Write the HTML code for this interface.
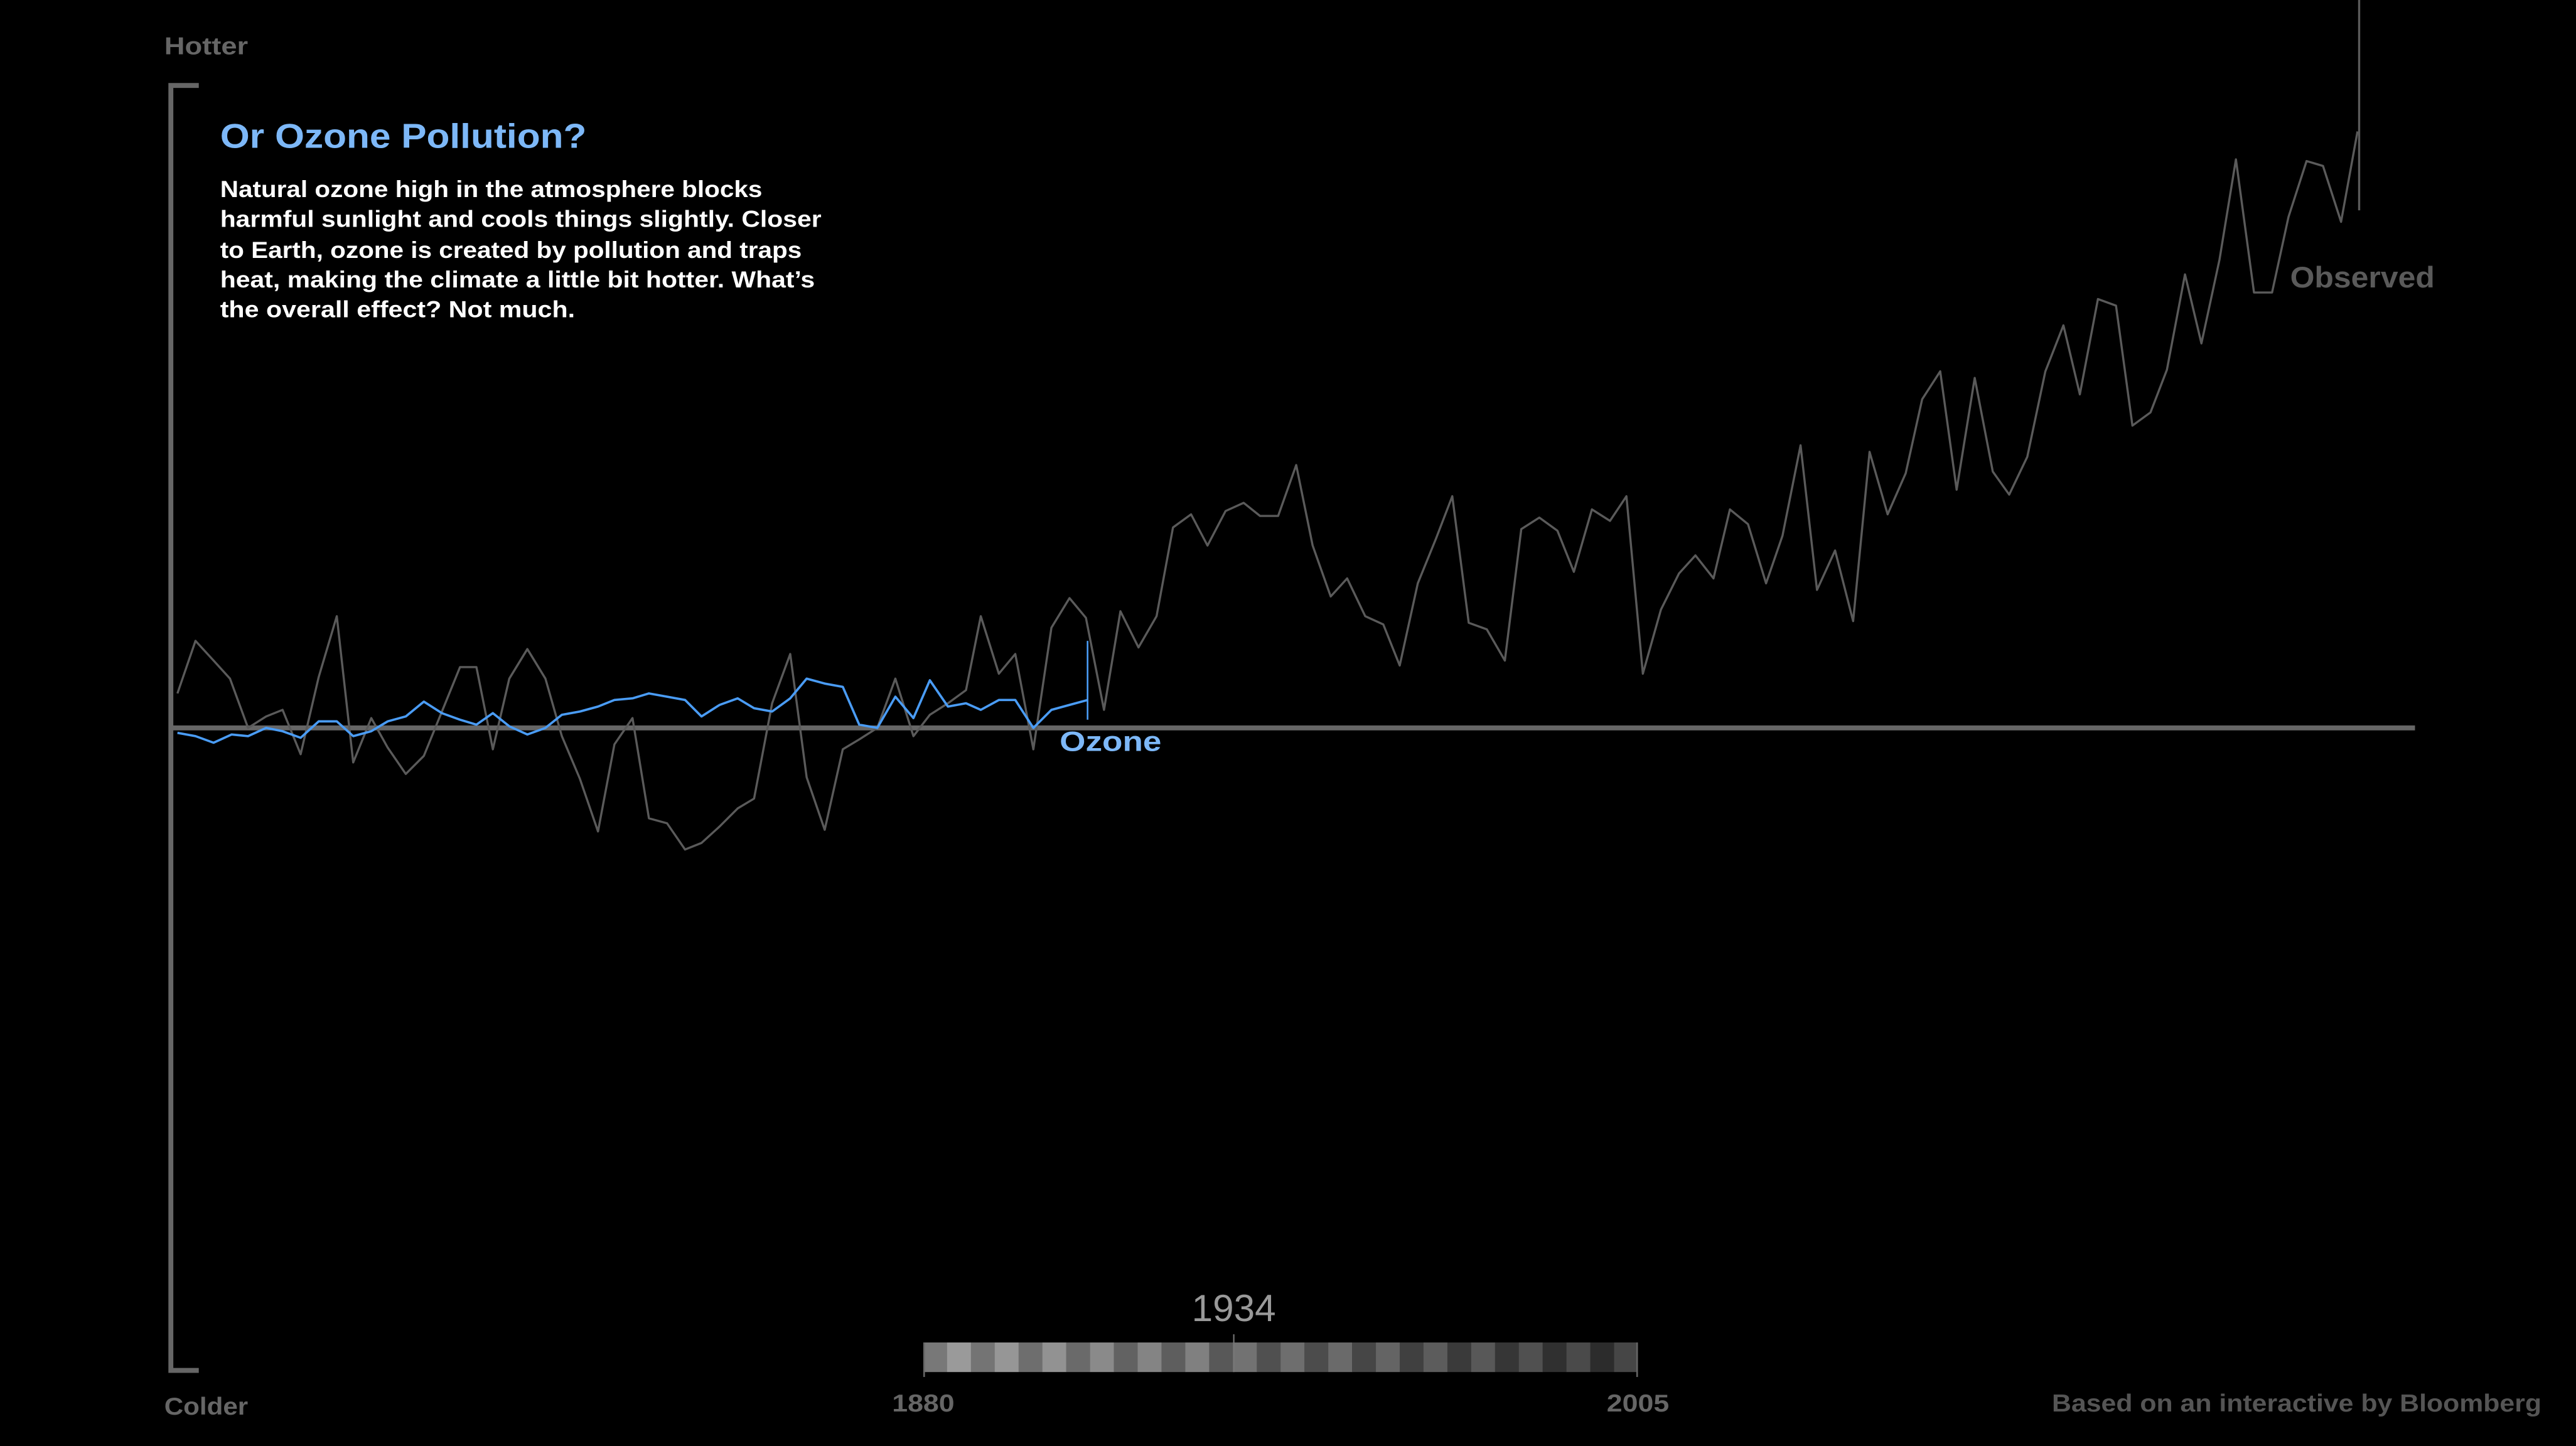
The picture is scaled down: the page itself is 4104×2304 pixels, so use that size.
<!DOCTYPE html>
<html><head><meta charset="utf-8"><style>html,body{margin:0;padding:0;background:#000;}svg{display:block}</style></head>
<body>
<svg width="4104" height="2304" viewBox="0 0 1568 880" preserveAspectRatio="none" xmlns="http://www.w3.org/2000/svg" font-family="Liberation Sans, sans-serif">
<rect width="1568" height="880" fill="#000"/>
<text x="100" y="33" font-size="15" font-weight="bold" fill="#666" textLength="51" lengthAdjust="spacingAndGlyphs">Hotter</text>
<text x="100" y="861" font-size="15" font-weight="bold" fill="#666" textLength="51" lengthAdjust="spacingAndGlyphs">Colder</text>
<path d="M121,52 H104 V834 H121" fill="none" stroke="#666" stroke-width="3"/>
<line x1="104" y1="443" x2="1470" y2="443" stroke="#666" stroke-width="3"/>
<text x="134" y="90" font-size="21" font-weight="bold" fill="#7db8f8" textLength="223" lengthAdjust="spacingAndGlyphs">Or Ozone Pollution?</text>
<g font-size="14.3" font-weight="bold" fill="#fff" xml:space="preserve">
<text x="134" y="120" textLength="330" lengthAdjust="spacingAndGlyphs">Natural ozone high in the atmosphere blocks</text>
<text x="134" y="138" textLength="366" lengthAdjust="spacingAndGlyphs">harmful sunlight and cools things slightly.  Closer</text>
<text x="134" y="157" textLength="354" lengthAdjust="spacingAndGlyphs">to Earth, ozone is created by pollution and traps</text>
<text x="134" y="175" textLength="362" lengthAdjust="spacingAndGlyphs">heat, making the climate a little bit hotter.  What’s</text>
<text x="134" y="193" textLength="216" lengthAdjust="spacingAndGlyphs">the overall effect?  Not much.</text>
</g>
<polyline fill="none" stroke="#5a5a5a" stroke-width="1.3" stroke-linejoin="round" points="108,422 119,390 130,402 140,413 151,443 162,436 172,432 183,459 194,412 205,375 215,464 226,437 236,455 247,471 258,460 269,433 280,406 290,406 300,456 310,413 321,395 332,413 342,448 353,474 364,506 374,453 385,437 395,498 406,501 417,517 427,513 438,503 449,492 459,486 470,428 481,398 491,473 502,505 513,456 523,450 534,443 545,413 556,448 566,435 577,428 588,420 597,375 608,410 618,398 629,456 640,382 651,364 661,376 672,432 682,372 693,394 704,375 714,321 725,313 735,332 746,311 757,306 767,314 778,314 789,283 799,332 810,363 820,352 831,375 842,380 852,405 863,355 874,328 884,302 894,379 905,383 916,402 926,322 937,315 948,323 958,348 969,310 980,317 990,302 1000,410 1011,371 1022,349 1032,338 1043,352 1053,310 1064,319 1075,355 1085,326 1096,271 1106,359 1117,335 1128,378 1138,275 1149,313 1160,288 1170,243 1181,226 1191,298 1202,230 1213,287 1223,301 1234,278 1245,226 1256,198 1266,240 1277,182 1288,186 1298,259 1309,251 1319,225 1330,167 1340,209 1351,158 1361,97 1372,178 1383,178 1393,132 1404,98 1414,101 1425,135 1435,80"/>
<line x1="1436" y1="0" x2="1436" y2="128" stroke="#5a5a5a" stroke-width="1.3"/>
<text x="1394" y="175" font-size="18" font-weight="bold" fill="#5a5a5a" textLength="88" lengthAdjust="spacingAndGlyphs">Observed</text>
<polyline fill="none" stroke="#4a9cf5" stroke-width="1.4" stroke-linejoin="round" points="108,446 119,448 130,452 141,447 151,448 162,443 172,445 183,449 194,439 205,439 215,448 226,445 236,439 247,436 258,427 269,434 280,438 290,441 300,434 310,442 321,447 332,443 342,435 353,433 364,430 374,426 385,425 395,422 406,424 417,426 427,436 438,429 449,425 459,431 470,433 481,425 491,413 502,416 513,418 523,441 534,443 545,424 556,437 566,414 577,430 588,428 597,432 608,426 618,426 629,443 640,432 651,429 662,426"/>
<line x1="662" y1="390" x2="662" y2="438" stroke="#4a9cf5" stroke-width="1"/>
<text x="645" y="457" font-size="17" font-weight="bold" fill="#7db8f8" textLength="62" lengthAdjust="spacingAndGlyphs">Ozone</text>
<g>
<rect x="562" y="817" width="14.6" height="18" fill="#787878"/><rect x="576.5" y="817" width="14.6" height="18" fill="#9a9a9a"/>
<rect x="591" y="817" width="14.6" height="18" fill="#747474"/><rect x="605.5" y="817" width="14.6" height="18" fill="#969696"/>
<rect x="620" y="817" width="14.6" height="18" fill="#6e6e6e"/><rect x="634.5" y="817" width="14.6" height="18" fill="#929292"/>
<rect x="649" y="817" width="14.6" height="18" fill="#6a6a6a"/><rect x="663.5" y="817" width="14.6" height="18" fill="#8a8a8a"/>
<rect x="678" y="817" width="14.6" height="18" fill="#626262"/><rect x="692.5" y="817" width="14.6" height="18" fill="#848484"/>
<rect x="707" y="817" width="14.6" height="18" fill="#5e5e5e"/><rect x="721.5" y="817" width="14.6" height="18" fill="#808080"/>
<rect x="736" y="817" width="14.6" height="18" fill="#585858"/><rect x="750.5" y="817" width="14.6" height="18" fill="#727272"/>
<rect x="765" y="817" width="14.6" height="18" fill="#505050"/><rect x="779.5" y="817" width="14.6" height="18" fill="#6e6e6e"/>
<rect x="794" y="817" width="14.6" height="18" fill="#4c4c4c"/><rect x="808.5" y="817" width="14.6" height="18" fill="#6a6a6a"/>
<rect x="823" y="817" width="14.6" height="18" fill="#464646"/><rect x="837.5" y="817" width="14.6" height="18" fill="#646464"/>
<rect x="852" y="817" width="14.6" height="18" fill="#404040"/><rect x="866.5" y="817" width="14.6" height="18" fill="#5c5c5c"/>
<rect x="881" y="817" width="14.6" height="18" fill="#3a3a3a"/><rect x="895.5" y="817" width="14.6" height="18" fill="#585858"/>
<rect x="910" y="817" width="14.6" height="18" fill="#363636"/><rect x="924.5" y="817" width="14.6" height="18" fill="#505050"/>
<rect x="939" y="817" width="14.6" height="18" fill="#303030"/><rect x="953.5" y="817" width="14.6" height="18" fill="#4a4a4a"/>
<rect x="968" y="817" width="14.6" height="18" fill="#2c2c2c"/><rect x="982.5" y="817" width="14.5" height="18" fill="#464646"/>
</g>
<line x1="562.5" y1="817" x2="562.5" y2="838" stroke="#666" stroke-width="1"/>
<line x1="996.5" y1="817" x2="996.5" y2="838" stroke="#666" stroke-width="1"/>
<line x1="751" y1="812" x2="751" y2="835" stroke="#777" stroke-width="0.8"/>
<text x="751" y="804" font-size="23" fill="#999" text-anchor="middle">1934</text>
<text x="562" y="859" font-size="15" font-weight="bold" fill="#666" text-anchor="middle" textLength="38" lengthAdjust="spacingAndGlyphs">1880</text>
<text x="997" y="859" font-size="15" font-weight="bold" fill="#666" text-anchor="middle" textLength="38" lengthAdjust="spacingAndGlyphs">2005</text>
<text x="1249" y="859" font-size="15" font-weight="bold" fill="#555" textLength="298" lengthAdjust="spacingAndGlyphs">Based on an interactive by Bloomberg</text>
</svg>
</body></html>
